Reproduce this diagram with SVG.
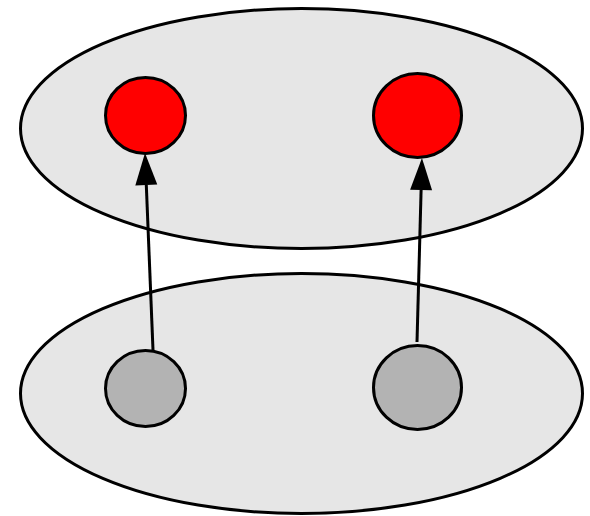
<svg xmlns="http://www.w3.org/2000/svg" width="590" height="516" viewBox="0 0 590 516">
<style>
.layer{fill:#e6e6e6;stroke:#000;stroke-width:3}
.red{fill:#ff0000;stroke:#000;stroke-width:3}
.gray{fill:#b3b3b3;stroke:#000;stroke-width:3}
.edge{stroke:#000;stroke-width:3;fill:none}
</style>
<defs>
<marker id="arrow" markerUnits="userSpaceOnUse" markerWidth="34" markerHeight="24" refX="0" refY="11" orient="auto" overflow="visible">
<path d="M0,0 L32,11 L0,22 Z" fill="#000"/>
</marker>
</defs>
<g id="layer-top"><ellipse class="layer" cx="301.5" cy="128.5" rx="281" ry="120"/></g>
<g id="layer-bottom"><ellipse class="layer" cx="301.5" cy="393.5" rx="281" ry="120"/></g>
<g id="node-top-left"><ellipse class="red" cx="145.5" cy="115.5" rx="40" ry="38"/></g>
<g id="node-top-right"><ellipse class="red" cx="417.5" cy="115.5" rx="44" ry="42"/></g>
<g id="node-bottom-left"><ellipse class="gray" cx="145.5" cy="388.5" rx="40" ry="38"/></g>
<g id="node-bottom-right"><ellipse class="gray" cx="417.5" cy="387.5" rx="44" ry="42"/></g>
<g id="connectors">
<line class="edge" x1="153" y1="350" x2="146.3" y2="185" marker-end="url(#arrow)"/>
<line class="edge" x1="417" y1="342" x2="421.1" y2="190" marker-end="url(#arrow)"/>
</g>
</svg>
